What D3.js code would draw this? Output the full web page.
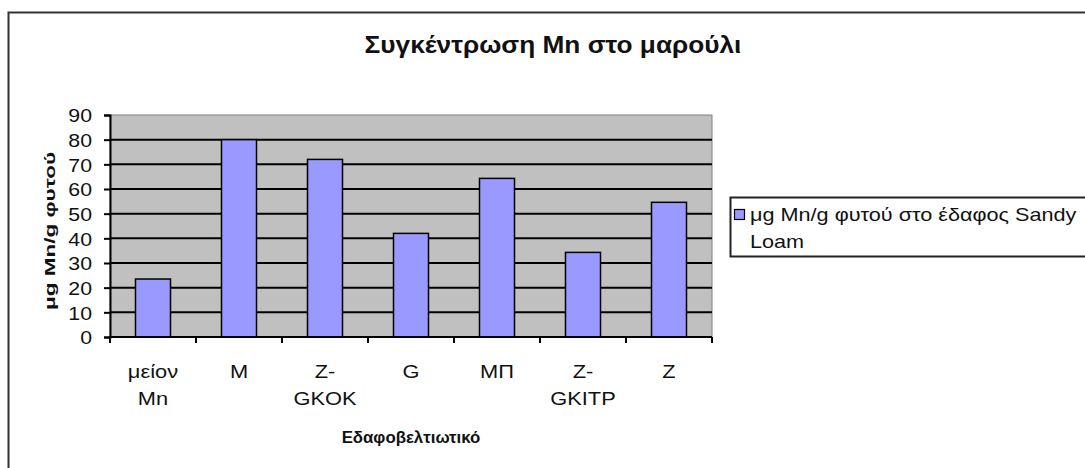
<!DOCTYPE html>
<html>
<head>
<meta charset="utf-8">
<script src="https://cdn.jsdelivr.net/npm/d3@7"></script>
<style>
  html, body { margin: 0; padding: 0; background: #fff; }
  svg { display: block; font-family: Arial, "Liberation Sans", sans-serif; }
</style>
</head>
<body>
<svg id="chart" width="1085" height="468"></svg>
<script>
// Mn concentration in lettuce per soil amendment
const categories = [["μείον", "Mn"], ["M"], ["Z-", "GKOK"], ["G"], ["MΠ"], ["Z-", "GKITP"], ["Z"]];
const values = [23.5, 80, 72, 42, 64.3, 34.3, 54.6];
const yTicks = [0, 10, 20, 30, 40, 50, 60, 70, 80, 90];
const title = "Συγκέντρωση Mn στο μαρούλι";
const xTitle = "Εδαφοβελτιωτικό";
const yTitle = "μg Mn/g φυτού";
const seriesName = ["μg Mn/g φυτού στο έδαφος Sandy", "Loam"];

const svg = d3.select("#chart");
const plot = { left: 110, right: 712, top: 115, bottom: 337 };

// widen glyphs horizontally by factor k (text stays real text)
function stretch(sel, k) {
  sel.each(function () {
    const w = this.getComputedTextLength();
    d3.select(this).attr("textLength", w * k).attr("lengthAdjust", "spacingAndGlyphs");
  });
}

// outer chart frame
svg.append("rect")
  .attr("x", 8.5).attr("y", 12.5).attr("width", 1100).attr("height", 480)
  .attr("fill", "#fff").attr("stroke", "#333").attr("stroke-width", 2);

const x = d3.scaleBand()
  .domain(d3.range(categories.length))
  .range([plot.left, plot.right])
  .paddingInner(0.593).paddingOuter(0.2965);

const y = d3.scaleLinear().domain([0, 90]).range([plot.bottom, plot.top]);

// plot background
svg.append("rect")
  .attr("x", plot.left).attr("y", plot.top)
  .attr("width", plot.right - plot.left).attr("height", plot.bottom - plot.top)
  .attr("fill", "#c0c0c0").attr("stroke", "#808080").attr("stroke-width", 1);

// gridlines
svg.append("g").selectAll("line")
  .data(yTicks.filter(d => d > 0 && d < 90))
  .join("line")
  .attr("x1", plot.left).attr("x2", plot.right)
  .attr("y1", d => y(d)).attr("y2", d => y(d))
  .attr("stroke", "#000").attr("stroke-width", 2);

// bars
svg.append("g").selectAll("rect")
  .data(values)
  .join("rect")
  .attr("x", (d, i) => x(i))
  .attr("y", d => y(d))
  .attr("width", x.bandwidth())
  .attr("height", d => y(0) - y(d))
  .attr("fill", "#9999ff").attr("stroke", "#000").attr("stroke-width", 1.5);

// y axis
const yAxis = svg.append("g")
  .attr("transform", `translate(${plot.left},0)`)
  .call(d3.axisLeft(y).tickValues(yTicks).tickSize(6).tickPadding(12));
yAxis.select(".domain").attr("stroke", "#000").attr("stroke-width", 2);
yAxis.selectAll(".tick line").attr("stroke", "#000").attr("stroke-width", 2);
yAxis.selectAll(".tick text")
  .attr("font-size", 19).attr("fill", "#111")
  .attr("font-family", "Arial, 'Liberation Sans', sans-serif")
  .attr("dy", "0.36em")
  .call(stretch, 1.12);

// x axis: ticks at the category boundaries
const bounds = d3.range(categories.length + 1).map(i => plot.left + i * x.step());
svg.append("line")
  .attr("x1", plot.left - 1).attr("x2", plot.right)
  .attr("y1", plot.bottom).attr("y2", plot.bottom)
  .attr("stroke", "#000").attr("stroke-width", 2);
svg.append("g").selectAll("line")
  .data(bounds)
  .join("line")
  .attr("x1", d => d).attr("x2", d => d)
  .attr("y1", plot.bottom).attr("y2", plot.bottom + 6)
  .attr("stroke", "#000").attr("stroke-width", 2);

// category labels (wrapped)
const xl = svg.append("g").selectAll("text")
  .data(categories)
  .join("text")
  .attr("font-size", 18.5).attr("fill", "#111")
  .attr("text-anchor", "middle");
xl.each(function (lines, i) {
  const cx = x(i) + x.bandwidth() / 2;
  d3.select(this).selectAll("tspan")
    .data(lines)
    .join("tspan")
    .attr("x", cx)
    .attr("y", (d, j) => 378 + j * 27)
    .text(d => d);
});
xl.selectAll("tspan").call(stretch, 1.18);

// axis titles
svg.append("text")
  .attr("x", (plot.left + plot.right) / 2).attr("y", 443)
  .attr("text-anchor", "middle").attr("font-weight", "bold").attr("font-size", 16)
  .attr("fill", "#111")
  .text(xTitle).call(stretch, 1.05);

svg.append("text")
  .attr("transform", "translate(55,231) rotate(-90)")
  .attr("text-anchor", "middle").attr("font-weight", "bold").attr("font-size", 15)
  .attr("fill", "#111")
  .text(yTitle).call(stretch, 1.5);

// chart title
svg.append("text")
  .attr("x", 553).attr("y", 53)
  .attr("text-anchor", "middle").attr("font-weight", "bold").attr("font-size", 23)
  .attr("fill", "#111")
  .text(title).call(stretch, 1.14);

// legend
const legend = svg.append("g");
legend.append("rect")
  .attr("x", 730.5).attr("y", 197.5).attr("width", 400).attr("height", 59)
  .attr("fill", "#fff").attr("stroke", "#222").attr("stroke-width", 2);
legend.append("rect")
  .attr("x", 734.5).attr("y", 209.5).attr("width", 10).attr("height", 10)
  .attr("fill", "#9999ff").attr("stroke", "#000").attr("stroke-width", 1.2);
legend.append("text")
  .attr("font-size", 18.5).attr("fill", "#111")
  .selectAll("tspan")
  .data(seriesName)
  .join("tspan")
  .attr("x", 750)
  .attr("y", (d, j) => 221 + j * 27)
  .text(d => d)
  .call(stretch, 1.17);
</script>
</body>
</html>
